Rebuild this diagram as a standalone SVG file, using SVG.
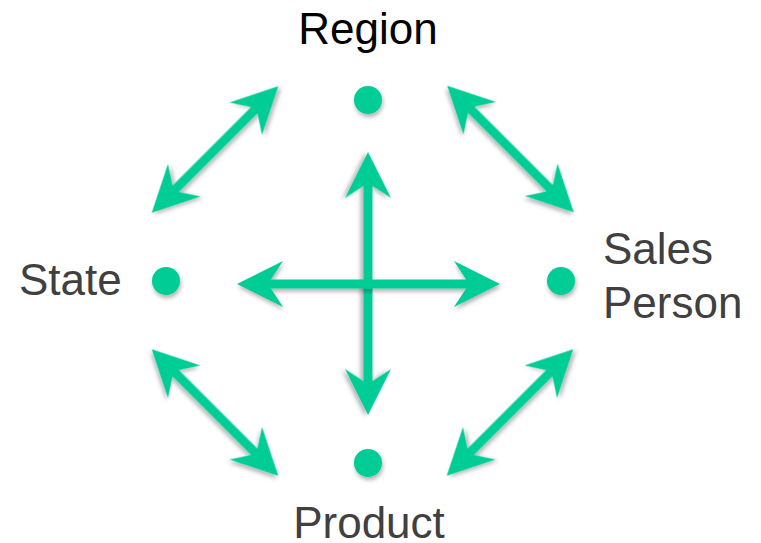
<svg xmlns="http://www.w3.org/2000/svg" width="761" height="543" viewBox="0 0 761 543">
  <style>
    .lbl { font-family: "Liberation Sans", Arial, sans-serif; font-size: 44px; fill: #404040; }
    .dot { fill: #00CC96; filter: url(#shadow); }
    .arrow { fill: #00CC96; filter: url(#shadow); }
  </style>
  <defs>
    <filter id="shadow" x="-30%" y="-30%" width="160%" height="160%">
      <feDropShadow dx="1" dy="3" stdDeviation="2" flood-color="#000" flood-opacity="0.3"/>
    </filter>
    <path id="longArrow" d="M131.5,0 L85.5,-23 L97.6,-4.5 L-97.6,-4.5 L-85.5,-23 L-131.5,0 L-85.5,23 L-97.6,4.5 L97.6,4.5 L85.5,23 Z"/>
    <path id="diagArrow" d="M89.5,0 L43.5,-23 L55.6,-4.5 L-55.6,-4.5 L-43.5,-23 L-89.5,0 L-43.5,23 L-55.6,4.5 L55.6,4.5 L43.5,23 Z"/>
  </defs>
  <rect width="761" height="543" fill="#ffffff"/>

  <g id="connectors">
    <use href="#diagArrow" class="arrow" transform="translate(215,149.5) rotate(-45)"/>
    <use href="#diagArrow" class="arrow" transform="translate(510.5,149) rotate(45)"/>
    <use href="#diagArrow" class="arrow" transform="translate(215,412.5) rotate(45)"/>
    <use href="#diagArrow" class="arrow" transform="translate(510,412.5) rotate(-45)"/>
    <use href="#longArrow" class="arrow" transform="translate(368,283.5) rotate(90)"/>
    <use href="#longArrow" class="arrow" transform="translate(368.5,284)"/>
  </g>

  <g id="region">
    <circle class="dot" cx="368" cy="100" r="14"/>
    <text class="lbl" x="368" y="44" text-anchor="middle" style="fill:#000000">Region</text>
  </g>
  <g id="state">
    <circle class="dot" cx="166" cy="281" r="14"/>
    <text class="lbl" x="19" y="295">State</text>
  </g>
  <g id="sales-person">
    <circle class="dot" cx="561" cy="281" r="14"/>
    <text class="lbl" x="603" y="264">Sales</text>
    <text class="lbl" x="603" y="318">Person</text>
  </g>
  <g id="product">
    <circle class="dot" cx="368" cy="463" r="14"/>
    <text class="lbl" x="369" y="538" text-anchor="middle">Product</text>
  </g>
</svg>
